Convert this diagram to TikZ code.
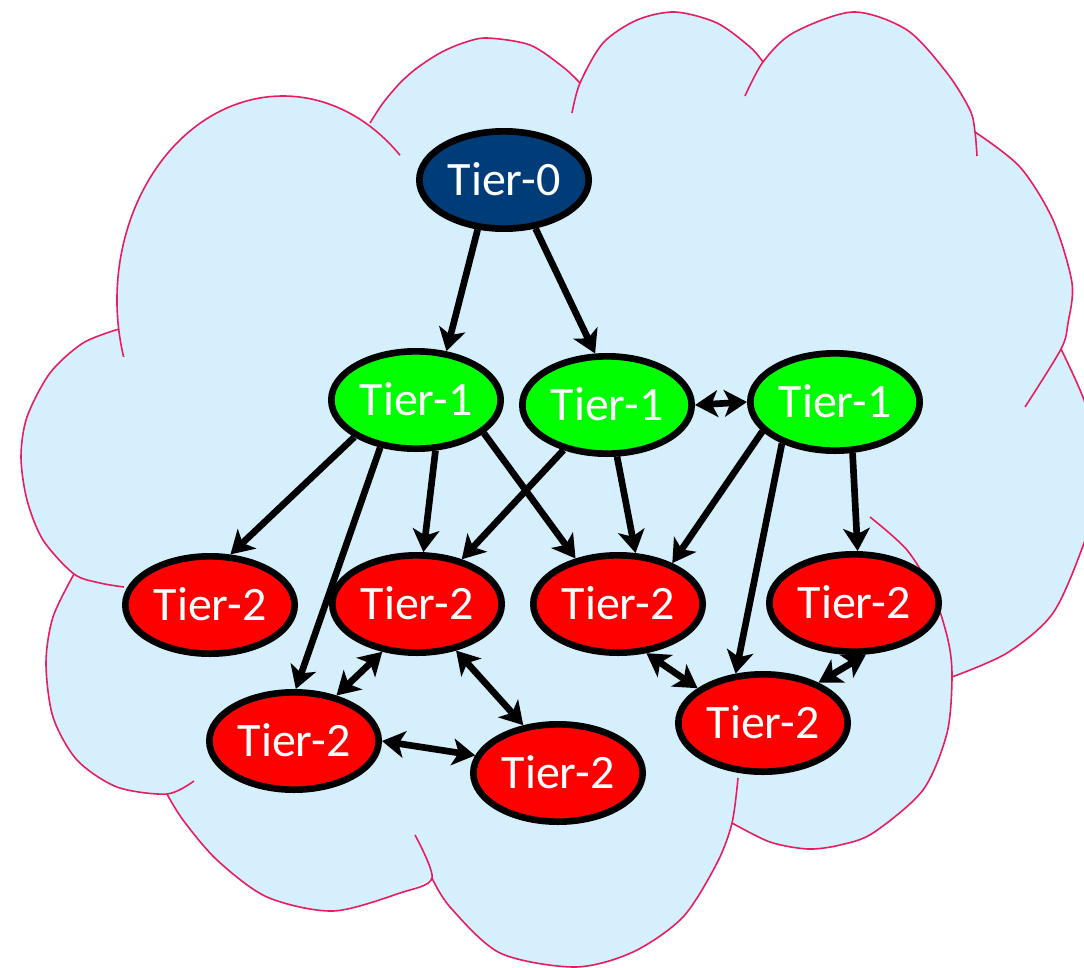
\documentclass[tikz,border=0pt]{standalone}
\usepackage{fontspec}
\setmainfont{Carlito}
\usetikzlibrary{shapes.geometric,arrows.meta}

\definecolor{cloudfill}{RGB}{214,239,252}
\definecolor{cloudred}{RGB}{230,30,95}
\definecolor{tierblue}{RGB}{0,60,120}
\definecolor{tiergreen}{RGB}{0,255,0}
\definecolor{tierred}{RGB}{255,0,0}

% label with no size of its own, so the ellipse keeps its minimum size
\newcommand{\tierlbl}[1]{\makebox[0pt]{\smash{\raisebox{-0.32em}{#1}}}}

\tikzset{every picture/.style={line width=0.75pt}}
\tikzset{
  tier/.style={ellipse, draw=black, line width=5pt, inner sep=0pt, text=white,
    minimum width=127pt, minimum height=73pt, font=\fontsize{36}{43}\selectfont},
  tierzero/.style={tier, fill=tierblue},
  tierone/.style={tier, fill=tiergreen},
  tiertwo/.style={tier, fill=tierred},
  tierhead/.style={line width=5pt},
  tierlink/.style={tierhead, -{Stealth[length=17pt,width=20pt,inset=4.5pt]}},
  tierboth/.style={tierhead, {Stealth[length=17pt,width=20pt,inset=4.5pt]}-{Stealth[length=17pt,width=20pt,inset=4.5pt]}},
  cloudline/.style={draw=cloudred, line width=1.2pt},
}

\begin{document}
\begin{tikzpicture}[x=0.75pt,y=0.75pt,yscale=-1,xscale=1]
\useasboundingbox (0,0) rectangle (1084,967);
\begin{scope}
\clip (0,0) rectangle (1084,967);
%Shape: Cloud
\fill[cloudfill] (118.7,329.1) arc[start angle=171.8, end angle=301.1, x radius=166, y radius=204]
 -- plot[smooth] coordinates {(370,123) (383,103) (400,83) (417,68) (440,53) (463,43) (487,38) (530,45) (563,67) (580,83)}
 -- plot[smooth] coordinates {(580,83) (603,43) (637,20) (675,12) (717,23) (750,47) (763,62)}
 -- plot[smooth] coordinates {(763,62) (793,33) (853,12) (907,30) (947,73) (970,110) (975,132)}
 -- plot[smooth] coordinates {(975,132) (1020,167) (1053,220) (1072,283) (1068,323) (1061,349)}
 -- plot[smooth] coordinates {(1061,349) (1084,400) (1105,470) (1084,543) (1053,613) (1007,653) (952,677)}
 -- plot[smooth] coordinates {(952,677) (947,733) (923,790) (873,833) (840,845) (808,849) (770,842) (732,823)}
 -- plot[smooth] coordinates {(732,823) (717,863) (683,917) (633,952) (575,967) (500,953) (450,907) (432,878)}
 -- plot[smooth] coordinates {(432,878) (400,893) (333,911) (267,897) (217,860) (183,820) (167,794)}
 -- plot[smooth] coordinates {(167,794) (117,787) (77,760) (53,717) (46,663) (53,617) (74,574)}
 -- plot[smooth] coordinates {(74,574) (43,540) (27,500) (21,457) (27,417) (50,373) (83,343) (119,329)}
 -- cycle;
%Curve Lines: cloud bumps
\draw[cloudline] (123.6,356.9) arc[start angle=163.8, end angle=314.8, x radius=166, y radius=204];
\draw[cloudline] plot[smooth] coordinates {(370,123) (383,103) (400,83) (417,68) (440,53) (463,43) (487,38) (530,45) (563,67) (580,83)};
\draw[cloudline] plot[smooth] coordinates {(572,113) (580,83) (603,43) (637,20) (675,12) (717,23) (750,47) (763,62)};
\draw[cloudline] plot[smooth] coordinates {(745,96) (763,62) (793,33) (853,12) (907,30) (947,73) (970,110) (975,132) (977,156)};
\draw[cloudline] plot[smooth] coordinates {(975,132) (1020,167) (1053,220) (1072,283) (1068,323) (1061,349) (1025,407)};
\draw[cloudline] plot[smooth] coordinates {(1061,349) (1084,400) (1105,470) (1084,543) (1053,613) (1007,653) (952,677)};
\draw[cloudline] plot[smooth] coordinates {(870,517) (907,550) (933,593) (948,640) (952,677) (947,733) (923,790) (873,833) (840,845) (808,849) (770,842) (732,823)};
\draw[cloudline] plot[smooth] coordinates {(738,778) (732,823) (717,863) (683,917) (633,952) (575,967) (500,953) (450,907) (432,878)};
\draw[cloudline] plot[smooth] coordinates {(415,835) (432,878) (400,893) (333,911) (267,897) (217,860) (183,820) (167,794)};
\draw[cloudline] plot[smooth] coordinates {(74,574) (53,617) (46,663) (53,717) (77,760) (117,787) (167,794) (194,781)};
\draw[cloudline] plot[smooth] coordinates {(119,329) (83,343) (50,373) (27,417) (21,457) (27,500) (43,540) (74,574) (100,583) (124,587)};
\end{scope}

% Tier nodes
\node[tierzero] (t0) at (504,180) {\tierlbl{Tier-0}};
\node[tierone] (t1a) at (416,400) {\tierlbl{Tier-1}};
\node[tierone] (t1b) at (607,405) {\tierlbl{Tier-1}};
\node[tierone] (t1c) at (835,402) {\tierlbl{Tier-1}};
\node[tiertwo] (t2a) at (210,605) {\tierlbl{Tier-2}};
\node[tiertwo] (t2b) at (417,604) {\tierlbl{Tier-2}};
\node[tiertwo] (t2c) at (618,604) {\tierlbl{Tier-2}};
\node[tiertwo] (t2d) at (854,603) {\tierlbl{Tier-2}};
\node[tiertwo] (t2e) at (294,741) {\tierlbl{Tier-2}};
\node[tiertwo] (t2f) at (558,773) {\tierlbl{Tier-2}};
\node[tiertwo] (t2g) at (763,723) {\tierlbl{Tier-2}};

%Straight Lines
\draw[tierlink] (t0.242) -- (t1a.58);
\draw[tierlink] (t0.303) -- (t1b.103);
\draw[tierboth] (t1b.east) -- (t1c.west);
\draw[tierlink] (t1a.211) -- (t2a.68);
\draw[tierlink] (t1a.233) -- (t2e.88);
\draw[tierlink] (t1a.291) -- (t2b.83);
\draw[tierlink] (t1a.334) -- (t2c.133);
\draw[tierlink] (t1b.226) -- (t2b.45);
\draw[tierlink] (t1b.281) -- (t2c.71);
\draw[tierlink] (t1c.202) -- (t2c.37);
\draw[tierlink] (t1c.218) -- (t2g.119);
\draw[tierlink] (t1c.289) -- (t2d.86);
\draw[tierboth] (t2b.234) -- (t2e.47);
\draw[tierboth] (t2b.310) -- (t2f.126);
\draw[tierboth] (t2e.0) -- (t2f.168);
\draw[tierboth] (t2c.300) -- (t2g.152);
\draw[tierboth] (t2d.283) -- (t2g.36);

\end{tikzpicture}
\end{document}
